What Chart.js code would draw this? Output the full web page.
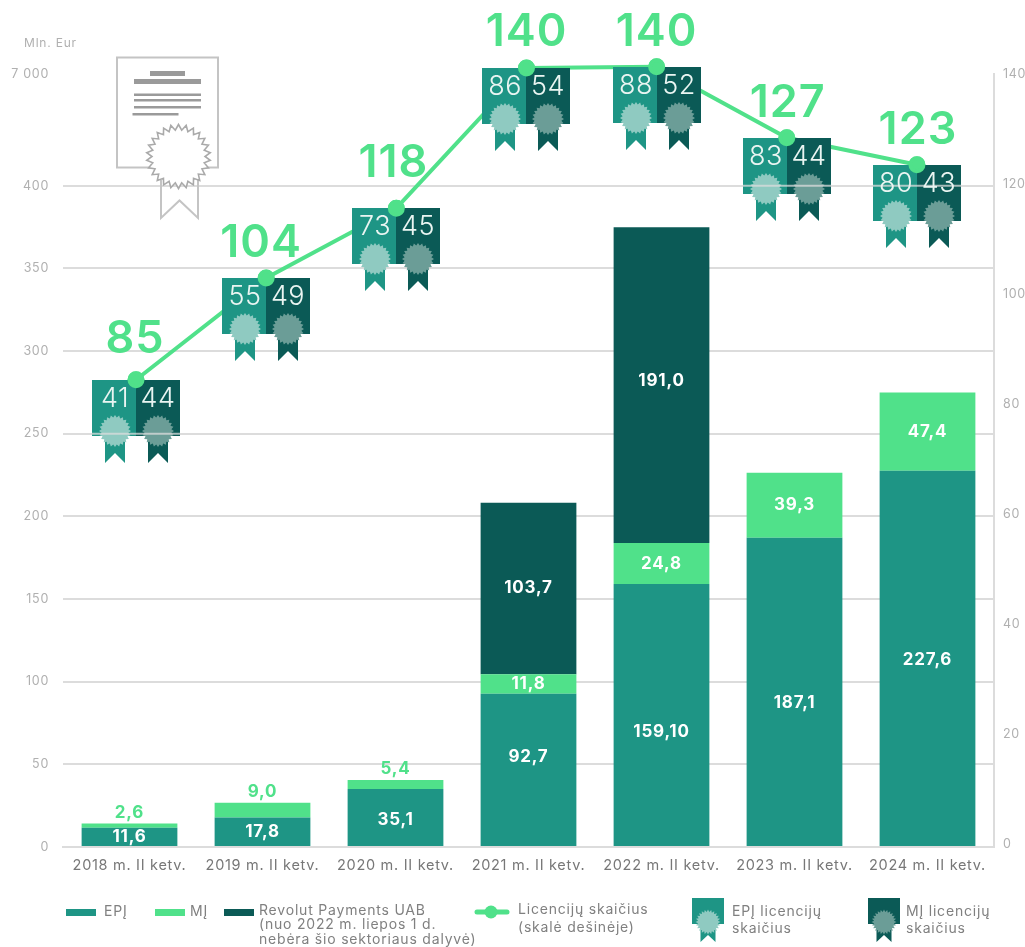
<!DOCTYPE html>
<html lang="lt">
<head>
<meta charset="utf-8">
<title>Licencijos</title>
<script src="https://cdn.jsdelivr.net/npm/chart.js@4"></script>
<style>html,body{margin:0;padding:0;background:#fff;overflow:hidden}canvas{display:block}</style>
</head>
<body>
<canvas id="c" width="1025" height="947"></canvas>
<script>
// ---- data ----
const categories = ['2018 m. II ketv.','2019 m. II ketv.','2020 m. II ketv.','2021 m. II ketv.','2022 m. II ketv.','2023 m. II ketv.','2024 m. II ketv.'];
const epiValues = [11.6, 17.8, 35.1, 92.7, 159.1, 187.1, 227.6];
const miValues = [2.6, 9.0, 5.4, 11.8, 24.8, 39.3, 47.4];
const revolutValues = [null, null, null, 103.7, 191.0, null, null];
const epiTexts = ['11,6','17,8','35,1','92,7','159,10','187,1','227,6'];
const miTexts = ['2,6','9,0','5,4','11,8','24,8','39,3','47,4'];
const revolutTexts = ['','','','103,7','191,0','',''];
// printed licence totals, and the height each point actually has on the right-hand scale
const licenceTexts = ['85','104','118','140','140','127','123'];
const licencePlotted = [84.4, 102.9, 115.6, 141.1, 141.3, 128.4, 123.5];
const epiLicences = ['41','55','73','86','88','83','80'];
const miLicences = ['44','49','45','54','52','44','43'];
const leftTicks = [0,50,100,150,200,250,300,350,400];
const leftBrokenTick = '7 000';
const rightTicks = [0,20,40,60,80,100,120,140];

// ---- style ----
const FONT = 'Inter, "Open Sans", sans-serif';
const cEpi = '#1e9585', cMi = '#50e18a', cRev = '#0b5a56';
const cSealEpi = '#8fcac1', cSealMi = '#6b9d97';
const cGrid = '#dcdcdc', cTick = '#b0b0b0', cCat = '#777777', cLegend = '#808080';
const bigLabelNudge = [-2, 3, -7, 3, 4, 4, 4];
const bigLabelShift = [-1, -5, -3, 0, 0, 1, 1];
const epiLabelNudge = [0, 0, 2, -13, 17, 11, 2];
const revLabelNudge = [0, 0, 0, -1, -4, 0, 0];
const LEFT_MAX = 467.6, RIGHT_MIN = -0.55, RIGHT_MAX = 140;

function star(ctx, cx, cy, rOut, rIn, n) {
  ctx.beginPath();
  for (let i = 0; i < n * 2; i++) {
    const r = i % 2 ? rIn : rOut, a = Math.PI * i / n - Math.PI / 2;
    const x = cx + r * Math.cos(a), y = cy + r * Math.sin(a);
    i ? ctx.lineTo(x, y) : ctx.moveTo(x, y);
  }
  ctx.closePath();
}
function ribbon(ctx, cx, top, bottom, halfW, notch) {
  ctx.beginPath();
  ctx.moveTo(cx - halfW, top); ctx.lineTo(cx + halfW, top);
  ctx.lineTo(cx + halfW, bottom); ctx.lineTo(cx, bottom - notch);
  ctx.lineTo(cx - halfW, bottom); ctx.closePath();
}
function halfBadge(ctx, x, y, w, h, sealCx, sealCy, r, ribBottom, ribHalf, notch, body, seal) {
  ctx.fillStyle = body;
  ctx.fillRect(x, y, w, h);
  ribbon(ctx, sealCx, sealCy, ribBottom, ribHalf, notch); ctx.fill();
  ctx.fillStyle = seal;
  star(ctx, sealCx, sealCy, r, r - 2.5, 24); ctx.fill();
}

const spacingPlugin = {
  id: 'spacing',
  beforeDraw(chart) { chart.ctx.letterSpacing = '0.7px'; }
};

const certificatePlugin = {
  id: 'certificate',
  beforeDatasetsDraw(chart) {
    const ctx = chart.ctx;
    ctx.save();
    // ribbon, page
    ctx.lineWidth = 2; ctx.strokeStyle = '#c4c4c4'; ctx.fillStyle = '#fff';
    ctx.beginPath();
    ctx.moveTo(161, 180); ctx.lineTo(161, 218); ctx.lineTo(179.5, 200.5);
    ctx.lineTo(198, 218); ctx.lineTo(198, 180); ctx.stroke();
    ctx.strokeRect(117, 57.5, 101, 110);
    ctx.fillStyle = '#9a9a9a';
    ctx.fillRect(150, 71, 35, 5);
    ctx.fillRect(134, 79, 67, 5);
    ctx.fillRect(134, 93.5, 67, 2.5);
    ctx.fillRect(134, 99, 67, 2.5);
    ctx.fillRect(134, 106, 67, 2.5);
    ctx.fillRect(132.5, 113, 46, 2.5);
    // seal
    star(ctx, 178.5, 156.5, 32, 26.5, 26);
    ctx.fillStyle = '#fff'; ctx.fill();
    ctx.strokeStyle = '#aaaaaa'; ctx.lineWidth = 1.6; ctx.stroke();
    ctx.restore();
  }
};

// badges sit above the line but below its round markers
const badgePlugin = {
  id: 'badges',
  afterDatasetsDraw(chart) {
    const ctx = chart.ctx, pts = chart.getDatasetMeta(0).data, yL = chart.scales.y;
    pts.forEach((p, i) => {
      const x = Math.round(p.x), y = Math.round(p.y);
      ctx.save();
      halfBadge(ctx, x - 44, y, 44, 56, x - 21, y + 51, 16, y + 83, 10, 10, cEpi, cSealEpi);
      halfBadge(ctx, x, y, 44, 56, x + 22, y + 51, 16, y + 83, 10, 10, cRev, cSealMi);
      // the grid shows faintly across the badges
      ctx.strokeStyle = 'rgba(220,220,220,.75)'; ctx.lineWidth = 2;
      leftTicks.forEach(t => {
        const gy = yL.getPixelForValue(t);
        if (gy > y && gy < y + 56) {
          ctx.beginPath(); ctx.moveTo(x - 44, gy); ctx.lineTo(x + 44, gy); ctx.stroke();
        }
      });
      ctx.fillStyle = '#eaf5f2';
      ctx.letterSpacing = '0.5px';
      ctx.font = '300 27px ' + FONT;
      ctx.textAlign = 'center'; ctx.textBaseline = 'middle';
      ctx.fillText(epiLicences[i], x - 21, y + 19);
      ctx.fillText(miLicences[i], x + 22, y + 19);
      ctx.restore();
    });
    pts.forEach(p => p.draw(ctx));
  }
};

const labelPlugin = {
  id: 'labels',
  afterDatasetsDraw(chart) {
    const ctx = chart.ctx;
    ctx.save();
    ctx.textAlign = 'center'; ctx.textBaseline = 'middle';
    // big licence totals
    ctx.fillStyle = cMi;
    ctx.letterSpacing = '1px';
    ctx.font = '600 45px ' + FONT;
    chart.getDatasetMeta(0).data.forEach((p, i) => {
      ctx.fillText(licenceTexts[i], p.x + bigLabelShift[i], p.y - 38 + bigLabelNudge[i]);
    });
    // bar values
    ctx.letterSpacing = '0.8px';
    ctx.font = '700 17px ' + FONT;
    const series = [[1, epiTexts, epiValues, epiLabelNudge], [2, miTexts, miValues, null], [3, revolutTexts, revolutValues, revLabelNudge]];
    series.forEach(([idx, texts, vals, nudge]) => {
      chart.getDatasetMeta(idx).data.forEach((bar, i) => {
        if (vals[i] == null) return;
        if (vals[i] < 10) {
          ctx.fillStyle = cMi;
          ctx.fillText(texts[i], bar.x, bar.y - 11);
        } else {
          ctx.fillStyle = '#ffffff';
          ctx.fillText(texts[i], bar.x, (bar.y + bar.base) / 2 + (nudge ? nudge[i] : 0));
        }
      });
    });
    ctx.restore();
  }
};

const legendPlugin = {
  id: 'customLegend',
  afterDraw(chart) {
    const ctx = chart.ctx;
    ctx.save();
    ctx.textBaseline = 'middle'; ctx.textAlign = 'left';
    ctx.letterSpacing = '0.8px';
    ctx.font = '14px ' + FONT; ctx.fillStyle = cLegend;
    const text = (s, x, y) => { ctx.fillStyle = cLegend; ctx.fillText(s, x, y); };
    ctx.fillStyle = cEpi; ctx.fillRect(66, 909, 30, 7);
    text('EPĮ', 104, 912);
    ctx.fillStyle = cMi; ctx.fillRect(155, 909, 30, 7);
    text('MĮ', 190, 912);
    ctx.fillStyle = cRev; ctx.fillRect(224, 909, 30, 7);
    text('Revolut Payments UAB', 259, 911);
    text('(nuo 2022 m. liepos 1 d.', 259, 925);
    text('nebėra šio sektoriaus dalyvė)', 259, 940);
    ctx.strokeStyle = cMi; ctx.lineWidth = 5; ctx.lineCap = 'round';
    ctx.beginPath(); ctx.moveTo(477, 912); ctx.lineTo(507, 912); ctx.stroke();
    ctx.fillStyle = cMi; ctx.beginPath(); ctx.arc(491, 912, 6.5, 0, Math.PI * 2); ctx.fill();
    text('Licencijų skaičius', 518, 910);
    text('(skalė dešinėje)', 518, 928);
    halfBadge(ctx, 692, 898, 32, 26, 708, 922, 12.5, 942, 7.5, 7, cEpi, cSealEpi);
    text('EPĮ licencijų', 732, 912);
    text('skaičius', 732, 929);
    halfBadge(ctx, 868, 898, 32, 26, 884, 922, 12.5, 942, 7.5, 7, cRev, cSealMi);
    text('MĮ licencijų', 906, 912);
    text('skaičius', 906, 929);
    // axis unit
    ctx.fillStyle = cTick; ctx.font = '12px ' + FONT;
    ctx.fillText('Mln. Eur', 24, 43);
    ctx.restore();
  }
};

new Chart(document.getElementById('c'), {
  type: 'bar',
  data: {
    labels: categories,
    datasets: [
      { type: 'line', label: 'Licencijų skaičius (skalė dešinėje)',
        data: licencePlotted.map((v, i) => ({ x: i, y: v })),
        xAxisID: 'xLine', yAxisID: 'yR', borderColor: cMi, backgroundColor: cMi,
        borderWidth: 4, pointRadius: 6.5, pointHoverRadius: 6.5, tension: 0, order: 0, clip: false },
      { label: 'EPĮ', data: epiValues, backgroundColor: cEpi, yAxisID: 'y', xAxisID: 'x', stack: 's', order: 1 },
      { label: 'MĮ', data: miValues, backgroundColor: cMi, yAxisID: 'y', xAxisID: 'x', stack: 's', order: 2 },
      { label: 'Revolut Payments UAB', data: revolutValues, backgroundColor: cRev, yAxisID: 'y', xAxisID: 'x', stack: 's', order: 3 }
    ]
  },
  options: {
    responsive: false,
    animation: false,
    devicePixelRatio: 1,
    layout: { padding: { top: 74, left: 0, right: 0, bottom: 0 } },
    datasets: { bar: { grouped: false, barPercentage: 0.72, categoryPercentage: 1 } },
    plugins: { legend: { display: false }, tooltip: { enabled: false } },
    scales: {
      x: {
        stacked: true,
        grid: { display: false, drawTicks: false },
        border: { color: cGrid, width: 2 },
        ticks: { color: cCat, font: { family: FONT, size: 14.5 }, padding: 10, maxRotation: 0, autoSkip: false },
        afterFit(s) { s.height = 100; }
      },
      xLine: {
        type: 'linear', display: false, position: 'top', offset: false, min: -0.561, max: 6.592
      },
      y: {
        position: 'left', stacked: true, min: 0, max: LEFT_MAX,
        afterBuildTicks(s) { s.ticks = leftTicks.concat([LEFT_MAX]).map(v => ({ value: v })); },
        grid: {
          color: c => (c.tick && c.tick.value > 400 ? 'rgba(0,0,0,0)' : cGrid),
          lineWidth: 2, drawTicks: false
        },
        border: { display: false },
        ticks: {
          color: cTick, font: { family: FONT, size: 12.5 }, padding: 14,
          callback: v => (v > 400 ? leftBrokenTick : String(v))
        },
        afterFit(s) { s.width = 63; }
      },
      yR: {
        position: 'right', min: RIGHT_MIN, max: RIGHT_MAX,
        afterBuildTicks(s) { s.ticks = rightTicks.map(v => ({ value: v })); },
        grid: { display: false, drawTicks: false },
        border: { color: cGrid, width: 2 },
        ticks: { color: cTick, font: { family: FONT, size: 12.5 }, padding: 9, callback: v => String(v) },
        afterFit(s) { s.width = 31; }
      }
    }
  },
  plugins: [spacingPlugin, certificatePlugin, badgePlugin, labelPlugin, legendPlugin]
});
</script>
</body>
</html>
